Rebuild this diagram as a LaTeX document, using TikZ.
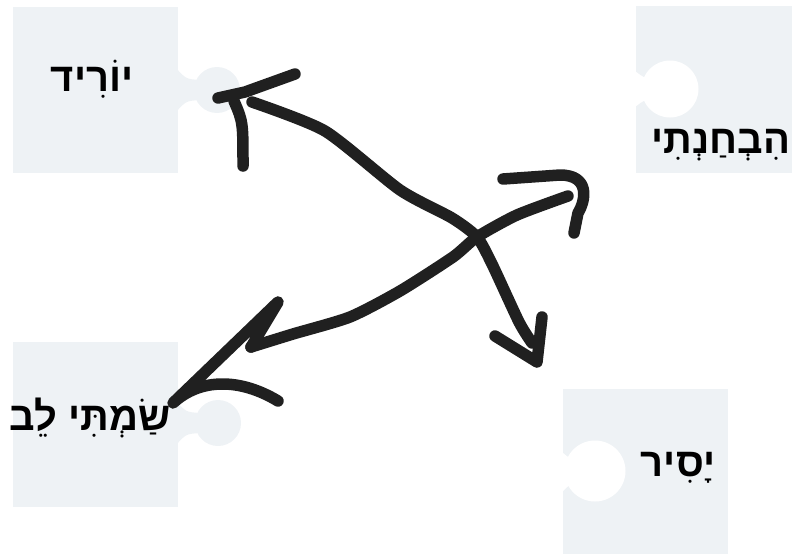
\documentclass[tikz,border=0pt]{standalone}
\usepackage{fontspec}
\newfontfamily\heb[Script=Hebrew]{Liberation Sans}
\TeXXeTstate=1
\definecolor{tile}{RGB}{238,242,245}
\definecolor{ink}{RGB}{32,32,32}
\begin{document}
\begin{tikzpicture}[x=1pt,y=-1pt,
  tilefill/.style={fill=tile,draw=none},
  holefill/.style={fill=white,draw=none},
  inkline/.style={draw=ink,line width=11.5pt,line cap=round,line join=round},
  word/.style={font=\heb\bfseries\fontsize{40}{44}\selectfont,inner sep=0pt,anchor=base}]
\useasboundingbox (0,0) rectangle (792,554);
% top-left tile with tab
\fill[tilefill] (13,7) rectangle (178,173);
\fill[tilefill] (217,90) circle (23);
\fill[tilefill] (176,68) .. controls (186,79) .. (200,80) -- (200,100) .. controls (186,101) .. (176,112) -- cycle;
% bottom-left tile with tab
\fill[tilefill] (13,342) rectangle (178,507);
\fill[tilefill] (218,423) circle (23);
\fill[tilefill] (176,401) .. controls (186,412) .. (200,413) -- (200,433) .. controls (186,434) .. (176,445) -- cycle;
% top-right tile with hole
\fill[tilefill] (636,6) rectangle (792,173);
\fill[holefill] (670,89) circle (28.5);
\fill[holefill] (635,71) .. controls (644,78) .. (652,78) -- (652,100) .. controls (644,100) .. (635,107) -- cycle;
% bottom-right tile with hole
\fill[tilefill] (563,389) rectangle (728,554);
\fill[holefill] (595,471) circle (30.5);
\fill[holefill] (562,452) .. controls (570,459) .. (578,459) -- (578,484) .. controls (570,484) .. (562,492) -- cycle;
% words
\node[word] (w1) at (92,91) {\beginR יוֹרִיד\endR};
\node[word] (w2) at (721,153) {\beginR הִבְחַנְתִי\endR};
\node[word] (w3) at (90,430) {\beginR שַׂמְתִּי לֵב\endR};
\node[word] (w4) at (678,476) {\beginR יָסִיר\endR};
% stroke 1: top-left to bottom-right
\coordinate (s1a) at (252,102);
\coordinate (s1b) at (325,131);
\coordinate (s1c) at (400,190);
\coordinate (s1d) at (452,218);
\coordinate (cross) at (477,237);
\coordinate (s1e) at (492,264);
\coordinate (s1f) at (519,322);
\coordinate (s1g) at (532,343);
\draw[inkline] plot[smooth,tension=0.4] coordinates {(s1a) (s1b) (s1c) (s1d) (cross) (s1e) (s1f) (s1g)};
% head top-left
\coordinate (h1a) at (295,74);
\coordinate (h1b) at (245,92);
\coordinate (h1c) at (218,98);
\coordinate (h1d) at (234,101);
\coordinate (h1e) at (243,166);
\draw[inkline] (h1a) -- (h1b) -- (h1c);
\draw[inkline] (h1d) .. controls (243,122) .. (h1e);
% head bottom-right
\coordinate (h2a) at (495,336);
\coordinate (h2b) at (537,362);
\coordinate (h2c) at (542,317);
\draw[inkline] (h2a) -- (h2b) -- (h2c);
% stroke 2: bottom-left to top-right
\coordinate (s2a) at (251,347);
\coordinate (s2b) at (293,334);
\coordinate (s2c) at (350,317);
\coordinate (s2d) at (400,291);
\coordinate (s2e) at (453,257);
\coordinate (s2f) at (517,215);
\coordinate (s2g) at (568,196);
\draw[inkline] plot[smooth,tension=0.4] coordinates {(s2a) (s2b) (s2c) (s2d) (s2e) (cross) (s2f) (s2g)};
% head bottom-left
\coordinate (h3a) at (173,403);
\coordinate (h3b) at (278,302);
\coordinate (h3c) at (278,401);
\draw[inkline] (h3c) .. controls (240,378) and (200,378) .. (h3a) -- (h3b) -- (s2a);
% head top-right
\coordinate (h4a) at (503,179);
\coordinate (h4b) at (560,175);
\coordinate (h4c) at (578,213);
\coordinate (h4d) at (574,233);
\draw[inkline] (h4a) -- (h4b) .. controls (590,175) and (586,200) .. (h4c) -- (h4d);
\end{tikzpicture}
\end{document}
